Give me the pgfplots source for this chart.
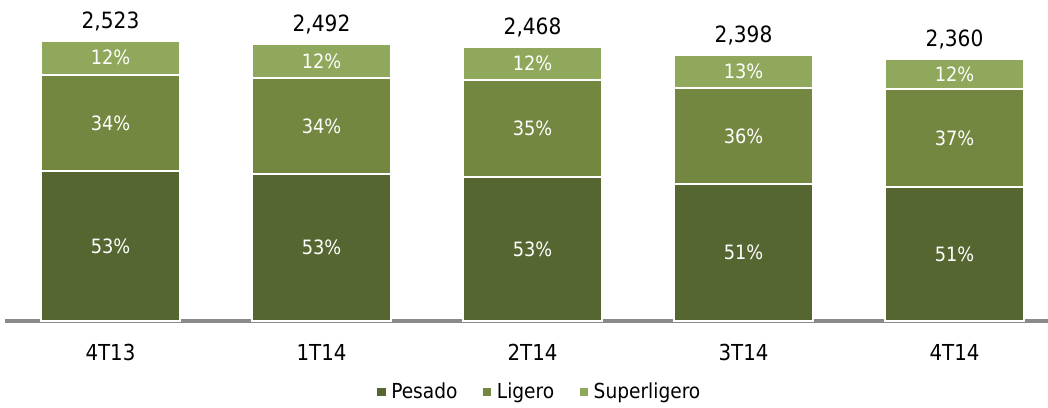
\documentclass[border=0pt]{standalone}
\usepackage{fontspec}
\setmainfont{DejaVu Sans Condensed}
\usepackage{pgfplots}
\pgfplotsset{compat=1.18}
\definecolor{cpes}{RGB}{85,102,48}
\definecolor{clig}{RGB}{116,135,64}
\definecolor{csup}{RGB}{143,168,92}
\definecolor{axgray}{RGB}{138,138,138}
\pgfplotsset{base/.style={
  at={(0,0)}, anchor=south west,
  scale only axis,
  width=782.25pt, height=240.75pt,
  xmin=-0.5, xmax=4.443,
  ymin=0, ymax=2892,
  clip=false}}
\begin{document}
\begin{tikzpicture}
\begin{axis}[
  base,
  ybar stacked,
  bar width=0.659,
  axis y line=none,
  axis x line*=bottom,
  x axis line style={-, draw=axgray, line width=3pt},
  major tick length=0pt,
  xtick={0,1,2,3,4},
  xticklabels={4T13,1T14,2T14,3T14,4T14},
  xticklabel style={anchor=base, yshift=-29.25pt, font=\fontsize{16.5}{18}\selectfont},
  legend columns=3,
  legend style={draw=none, at={(0.513,-0.221)}, anchor=center,
    font=\fontsize{15.5}{17}\selectfont,
    /tikz/every even column/.append style={column sep=17pt}},
  legend image code/.code={\fill[#1, draw=none] (0pt,-3.2pt) rectangle (6.4pt,3.2pt); \path[draw=none, fill=none] (0pt,0pt) -- (8.6pt,0pt);},
]
\addplot[fill=cpes, draw=white, line width=1.5pt] coordinates {(0,1347) (1,1323) (2,1298) (3,1233) (4,1208)};
\addplot[fill=clig, draw=white, line width=1.5pt] coordinates {(0,873) (1,865) (2,876) (3,866) (4,878)};
\addplot[fill=csup, draw=white, line width=1.5pt] coordinates {(0,303) (1,304) (2,294) (3,299) (4,274)};
\legend{Pesado, Ligero, Superligero}
\end{axis}
\begin{axis}[base, hide axis]
% segment labels
\addplot[only marks, mark=none, nodes near coords, nodes near coords align=center,
  point meta=explicit symbolic,
  every node near coord/.append style={anchor=center, text=white, font=\fontsize{14.8}{16}\selectfont}]
  coordinates {(0,673.5)[53\%] (1,661.5)[53\%] (2,649)[53\%] (3,616.5)[51\%] (4,604)[51\%]
               (0,1783.5)[34\%] (1,1755.5)[34\%] (2,1736)[35\%] (3,1666)[36\%] (4,1647)[37\%]
               (0,2371.5)[12\%] (1,2340)[12\%] (2,2321)[12\%] (3,2248.5)[13\%] (4,2223)[12\%]};
% totals
\addplot[only marks, mark=none, nodes near coords, nodes near coords align=center,
  point meta=explicit symbolic,
  every node near coord/.append style={anchor=base, yshift=9.5pt, text=black, font=\fontsize{16.8}{18}\selectfont}]
  coordinates {(0,2523)[2{,}523] (1,2492)[2{,}492] (2,2468)[2{,}468] (3,2398)[2{,}398] (4,2360)[2{,}360]};
\end{axis}
\pgfresetboundingbox
\path[use as bounding box] (-3.75pt,-64.5pt) rectangle (782.25pt,240.75pt);
\end{tikzpicture}
\end{document}
